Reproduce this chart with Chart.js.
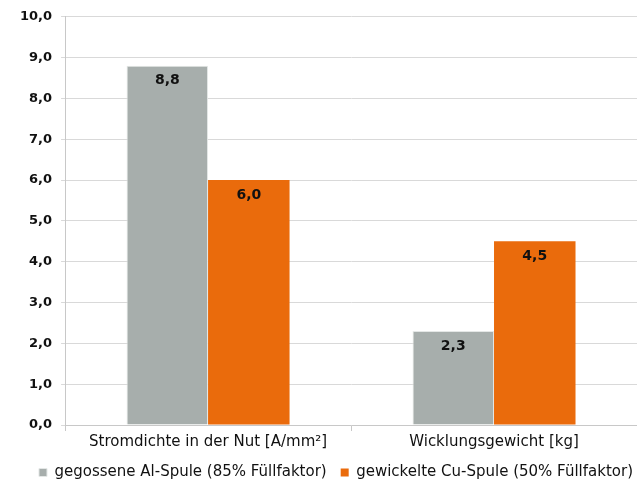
<!DOCTYPE html>
<html lang="de">
<head>
<meta charset="UTF-8">
<title>Stromdichte und Wicklungsgewicht</title>
<script src="https://cdn.jsdelivr.net/npm/chart.js"></script>
<style>
    html, body { margin: 0; padding: 0; background: #fff; }
    #wrap { width: 637px; height: 482px; }
</style>
</head>
<body>
<div id="wrap"><canvas id="chart"></canvas></div>
<script>
const categories = ['Stromdichte in der Nut [A/mm²]', 'Wicklungsgewicht [kg]'];
const seriesNames = ['gegossene Al-Spule (85% Füllfaktor)', 'gewickelte Cu-Spule (50% Füllfaktor)'];
const alValues = [8.8, 2.3];
const cuValues = [6.0, 4.5];

const fontFamily = "'DejaVu Sans', sans-serif";

// writes each bar's value just below its top edge
const barValues = {
    id: 'barValues',
    afterDatasetsDraw(chart) {
        const ctx = chart.ctx;
        ctx.save();
        ctx.font = 'bold 14px ' + fontFamily;
        ctx.fillStyle = '#111';
        ctx.textAlign = 'center';
        ctx.textBaseline = 'middle';
        chart.data.datasets.forEach((ds, i) => {
            chart.getDatasetMeta(i).data.forEach((bar, j) => {
                const txt = ds.data[j].toFixed(1).replace('.', ',');
                ctx.fillText(txt, bar.x, bar.y + 15);
            });
        });
        ctx.restore();
    }
};

// the legend row sits a little right of centre, closer to the right edge
const legendShift = {
    id: 'legendShift',
    afterLayout(chart) {
        chart.legend.left += 10;
        chart.legend.right += 10;
    }
};

new Chart(document.getElementById('chart'), {
    type: 'bar',
    data: {
        labels: categories,
        datasets: [{
            label: seriesNames[0],
            data: alValues,
            backgroundColor: '#a7aeac',
            borderColor: '#e4e7e6',
            borderWidth: 1
        }, {
            label: seriesNames[1],
            data: cuValues,
            backgroundColor: '#ea6b0c',
            borderWidth: 0
        }]
    },
    options: {
        responsive: true,
        maintainAspectRatio: false,
        animation: false,
        layout: { padding: { top: 10, right: 0, left: 11, bottom: -8 } },
        datasets: { bar: { categoryPercentage: 0.57, barPercentage: 1 } },
        plugins: {
            legend: {
                position: 'bottom',
                align: 'end',
                labels: {
                    boxWidth: 8,
                    boxHeight: 8,
                    padding: 14,
                    color: '#111',
                    font: { family: fontFamily, size: 15 }
                }
            },
            tooltip: { enabled: false }
        },
        scales: {
            x: {
                grid: { drawOnChartArea: false, color: '#c8c8c8', tickLength: 6 },
                border: { color: '#c8c8c8' },
                ticks: {
                    color: '#111',
                    padding: 2,
                    font: { family: fontFamily, size: 15 }
                },
                // tighten the gap between category names and legend
                afterFit: axis => { axis.height -= 2; }
            },
            y: {
                min: 0,
                max: 10,
                grid: { color: '#d9d9d9', tickLength: 4 },
                border: { color: '#c8c8c8' },
                ticks: {
                    stepSize: 1,
                    color: '#111',
                    padding: 9,
                    font: { family: fontFamily, size: 13, weight: 'bold' },
                    callback: v => v.toFixed(1).replace('.', ',')
                }
            }
        }
    },
    plugins: [barValues, legendShift]
});
</script>
</body>
</html>
